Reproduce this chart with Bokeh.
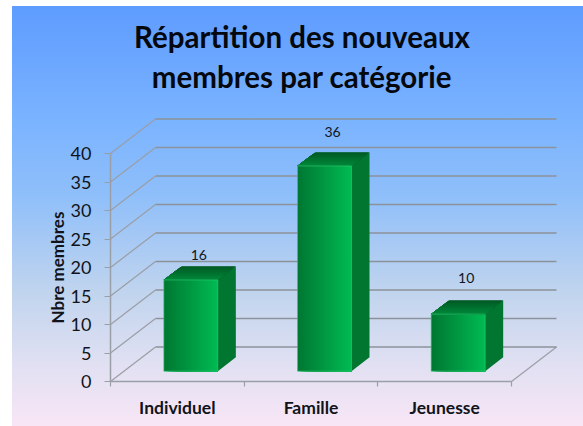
import math

from bokeh.embed import file_html
from bokeh.resources import INLINE
from bokeh.plotting import figure
from bokeh.models import FixedTicker, LinearAxis, Label
from bokeh.core.properties import value

categories = ["Individuel", "Famille", "Jeunesse"]
members = [16, 36, 10]
y_ticks = [0, 5, 10, 15, 20, 25, 30, 35, 40]
title_lines = ["Répartition des nouveaux", "membres par catégorie"]
y_label = "Nbre membres"
label_lift = [11, 20, 22]

FIG_W, FIG_H = 571, 420
OX, OY = 12, 6
LEFT, BASE = 110, 381
SLOT_PX, UNIT_PX = 133.67, 5.7
DX, DY = 45 / SLOT_PX, 34.5 / UNIT_PX


def proj(x, v, d):
    return x + d * DX, v + d * DY


def data_x(px):
    return (px - LEFT) / SLOT_PX


def data_y(py):
    return (BASE - py) / UNIT_PX


p = figure(
    width=FIG_W, height=FIG_H, toolbar_location=None, output_backend="svg",
    x_range=(data_x(OX), data_x(OX + FIG_W)), y_range=(data_y(OY + FIG_H), data_y(OY)),
    x_axis_type=None, y_axis_type=None,
    min_border_left=0, min_border_right=0, min_border_top=0, min_border_bottom=0,
    outline_line_color=None, border_fill_color=None, background_fill_color=None,
)
p.grid.visible = False
p.styles = {
    "position": "absolute", "left": f"{OX}px", "top": f"{OY}px",
    "background": "linear-gradient(180deg,#5e9cff 0%,#7ab3ff 27%,#8fbffa 45%,"
                  "#c0d4ee 68%,#e0e0f2 85%,#f8e6f6 100%)",
}

# walls and floor
nb = len(categories)
GRID = "#8c929a"
DIAG = "#9a9ea6"
p.multi_line(
    [[proj(0, v, 0)[0], proj(0, v, 1)[0]] for v in y_ticks] + [[proj(nb, 0, 0)[0], proj(nb, 0, 1)[0]]],
    [[proj(0, v, 0)[1], proj(0, v, 1)[1]] for v in y_ticks] + [[proj(nb, 0, 0)[1], proj(nb, 0, 1)[1]]],
    line_color=DIAG, line_width=1.2,
)
p.multi_line(
    [[proj(0, v, 1)[0], proj(nb, v, 1)[0]] for v in y_ticks],
    [[proj(0, v, 1)[1], proj(nb, v, 1)[1]] for v in y_ticks],
    line_color=GRID, line_width=1.5,
)


def mix(a, b, t):
    return "#" + "".join(f"{round(a[i] + (b[i] - a[i]) * t):02x}" for i in range(3))


FRONT_A, FRONT_B = (0, 120, 50), (0, 186, 82)
TOP_A, TOP_B = (0, 90, 36), (0, 135, 58)
SIDE_A, SIDE_B = (0, 125, 52), (0, 112, 46)
HALF = 0.202
D0, D1 = 0.3, 0.7
STEPS = 27

for i, v in enumerate(members):
    cx = i + 0.5
    # front face, painted left to right so that no seams show
    x0, y0 = proj(cx - HALF, 0, D0)
    x1, y1 = proj(cx + HALF, v, D0)
    lefts = [x0 + (x1 - x0) * k / STEPS for k in range(STEPS)]
    p.quad(left=lefts, right=[x1] * STEPS, bottom=[y0] * STEPS, top=[y1] * STEPS,
           fill_color=[mix(FRONT_A, FRONT_B, k / (STEPS - 1)) for k in range(STEPS)],
           line_color=None)
    # right side
    sx = [proj(cx + HALF, 0, D0)[0], proj(cx + HALF, 0, D1)[0], proj(cx + HALF, v, D1)[0], proj(cx + HALF, v, D0)[0]]
    sy = [proj(cx + HALF, 0, D0)[1], proj(cx + HALF, 0, D1)[1], proj(cx + HALF, v, D1)[1], proj(cx + HALF, v, D0)[1]]
    p.patch(sx, sy, fill_color=mix(SIDE_A, SIDE_B, 0.5), line_color=None)
    # top, painted back to front
    xs, ys, cols = [], [], []
    for k in range(STEPS):
        d = D1 - (D1 - D0) * k / STEPS
        a, b = proj(cx - HALF, v, d), proj(cx + HALF, v, d)
        c, e = proj(cx + HALF, v, D0), proj(cx - HALF, v, D0)
        xs.append([a[0], b[0], c[0], e[0]])
        ys.append([a[1], b[1], c[1], e[1]])
        cols.append(mix(TOP_A, TOP_B, k / (STEPS - 1)))
    p.patches(xs, ys, fill_color=cols, line_color=None)
    # light rim of the front face
    p.quad(left=[x0], right=[x1], bottom=[y0], top=[y1], fill_color=None,
           line_color="#2fcf74", line_width=1, line_alpha=0.6)
    # value label, centred on the bar's depth, above its back edge
    lx = proj(cx, v, (D0 + D1) / 2)[0]
    ly = proj(cx, v, D1)[1]
    p.text([lx], [ly], text=[str(v)], x_offset=-1, y_offset=-label_lift[i], text_align="center",
           text_baseline="middle", text_font=value("Lato"), text_font_size="14px",
           text_color="#10161f")

y_axis = LinearAxis(
    ticker=FixedTicker(ticks=y_ticks, minor_ticks=[]), bounds=(0, y_ticks[-1]),
    fixed_location=0,
    major_label_text_font="Lato", major_label_text_font_size="18px",
    major_label_text_color="#10141a", major_label_standoff=13,
    axis_line_color=DIAG, axis_line_width=1.5,
    major_tick_line_color=DIAG, major_tick_line_width=1.2, major_tick_out=6, major_tick_in=0,
)
p.add_layout(y_axis, "left")

x_ticks = LinearAxis(
    ticker=FixedTicker(ticks=list(range(nb + 1)), minor_ticks=[]), bounds=(0, nb),
    fixed_location=0,
    axis_line_color=DIAG, axis_line_width=1.5,
    major_tick_line_color=DIAG, major_tick_line_width=1.2, major_tick_out=5, major_tick_in=0,
    major_label_text_font_size="0px", major_label_text_color=None,
)
x_labels = LinearAxis(
    ticker=FixedTicker(ticks=[i + 0.5 for i in range(nb)], minor_ticks=[]),
    major_label_overrides={i + 0.5: c for i, c in enumerate(categories)},
    fixed_location=0,
    axis_line_color=None, major_tick_line_color=None, major_tick_out=0, major_tick_in=0,
    major_label_text_font="Lato", major_label_text_font_style="bold",
    major_label_text_font_size="17.5px", major_label_text_color="#10141a",
    major_label_standoff=15,
)
p.add_layout(x_ticks, "below")
p.add_layout(x_labels, "below")

# axis title centred on the axis itself rather than on the whole frame
p.add_layout(Label(x=data_x(57), y=data_y(267), text=y_label, angle=math.pi / 2,
                   text_align="center", text_baseline="middle", text_font="Lato",
                   text_font_style="bold", text_font_size="17px", text_color="#10141a"))

for line, py in zip(title_lines, (36, 76)):
    p.add_layout(Label(x=data_x(301.5), y=data_y(py), text=line, text_align="center",
                       text_baseline="middle", text_font="Lato", text_font_style="bold",
                       text_font_size="29.5px", text_color="#05080d"))

open("out.html", "w").write(file_html(p, INLINE))
